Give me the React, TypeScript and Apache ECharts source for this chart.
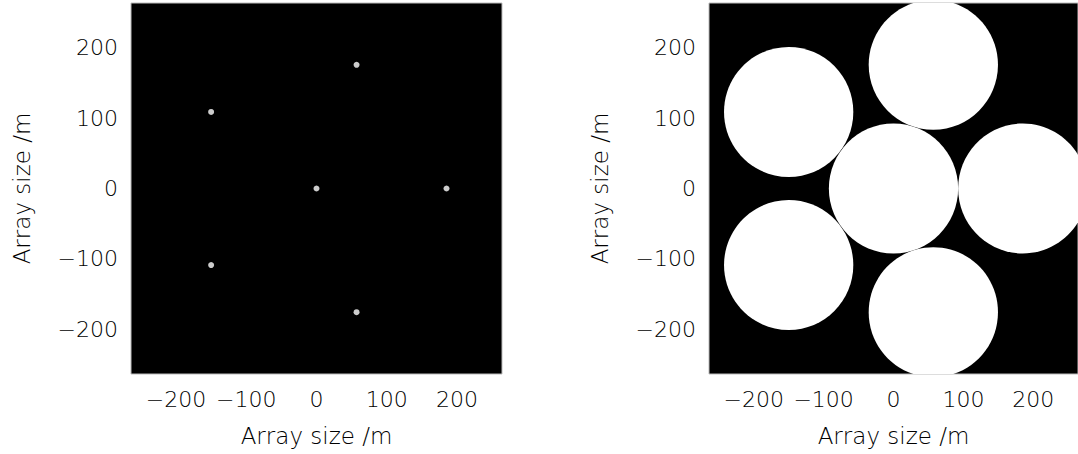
import React, { useEffect, useRef } from "react";
import * as echarts from "echarts";

// Dish positions (m)
const dishX = [0, 185, 57, -150, -150, 57];
const dishY = [0, 0, 176, 109, -109, -176];
// Dish radius (m)
const dishRadius = 92.5;
// Axis extent and tick labels
const axisMin = -264;
const axisMax = 264;
const tickValues = [-200, -100, 0, 100, 200];
const axisTitle = "Array size /m";

const FONT = "DejaVu Sans";
const WEIGHT = 200;
const SIZE = 22;
const TEXT_COLOR = "#000000";

function fmt(v: number) {
  return String(v).replace("-", "\u2212");
}

function makeX(gridIndex: number) {
  return {
    type: "value",
    gridIndex,
    min: axisMin,
    max: axisMax,
    name: axisTitle,
    nameLocation: "middle",
    nameGap: 50,
    nameTextStyle: { fontFamily: FONT, fontSize: 23, fontWeight: WEIGHT, color: TEXT_COLOR },
    axisLine: { show: false },
    axisTick: { show: false },
    splitLine: { show: false },
    axisLabel: {
      customValues: tickValues,
      formatter: (v: number) => fmt(v),
      fontFamily: FONT,
      fontSize: SIZE,
      fontWeight: WEIGHT,
      color: TEXT_COLOR,
      margin: 14,
      hideOverlap: false,
    },
  };
}

function makeY(gridIndex: number) {
  return {
    type: "value",
    gridIndex,
    min: axisMin,
    max: axisMax,
    name: axisTitle,
    nameLocation: "middle",
    nameGap: 98,
    nameRotate: 90,
    nameTextStyle: { fontFamily: FONT, fontSize: 23, fontWeight: WEIGHT, color: TEXT_COLOR },
    axisLine: { show: false },
    axisTick: { show: false },
    splitLine: { show: false },
    axisLabel: {
      customValues: tickValues,
      formatter: (v: number) => fmt(v),
      fontFamily: FONT,
      fontSize: SIZE,
      fontWeight: WEIGHT,
      color: TEXT_COLOR,
      margin: 13,
    },
  };
}

export default function App() {
  const ref = useRef<HTMLDivElement>(null);
  useEffect(() => {
    if (!ref.current) return;
    const chart = echarts.init(ref.current, null, { renderer: "svg" });
    const points = dishX.map((x, i) => [x, dishY[i]]);
    const dishes = dishX.map((x, i) => [x, dishY[i], dishRadius]);
    const gridBase = {
      top: 3,
      height: 371,
      show: true,
      backgroundColor: "#000000",
      borderColor: "#bbbbbb",
      borderWidth: 1,
      containLabel: false,
      outerBoundsMode: "none",
    };
    chart.setOption({
      animation: false,
      backgroundColor: "#ffffff",
      grid: [
        { ...gridBase, left: 131, width: 371 },
        { ...gridBase, left: 709, width: 369 },
      ],
      xAxis: [makeX(0), makeX(1)],
      yAxis: [makeY(0), makeY(1)],
      series: [
        {
          type: "scatter",
          xAxisIndex: 0,
          yAxisIndex: 0,
          data: points,
          symbol: "circle",
          symbolSize: 6,
          itemStyle: { color: "#ffffff" },
        },
        {
          type: "custom",
          xAxisIndex: 1,
          yAxisIndex: 1,
          clip: true,
          data: dishes,
          renderItem: (params: any, api: any) => {
            const c = api.coord([api.value(0), api.value(1)]);
            const s = api.size([api.value(2), api.value(2)]);
            return {
              type: "ellipse",
              shape: { cx: c[0], cy: c[1], rx: s[0], ry: s[1] },
              style: { fill: "#ffffff" },
            };
          },
        },
      ],
    });
    return () => chart.dispose();
  }, []);
  return (
    <div
      ref={ref}
      style={{ position: "fixed", left: 0, top: 0, width: 1078, height: 454 }}
    />
  );
}
